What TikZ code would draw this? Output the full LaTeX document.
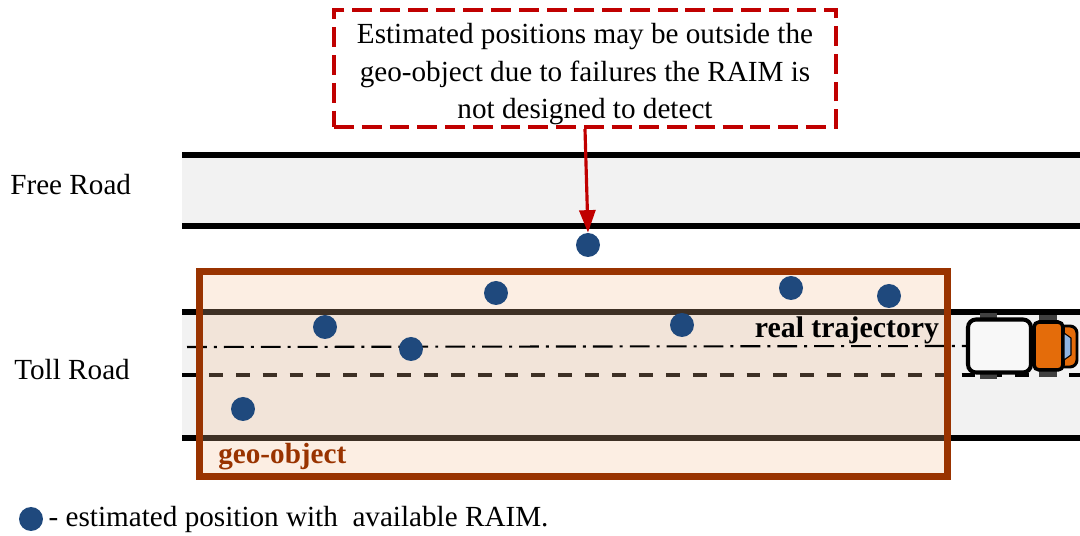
\documentclass[tikz,border=0pt]{standalone}
\usepackage{fontspec}
\setmainfont{Liberation Serif}
\usetikzlibrary{arrows.meta, positioning}

\definecolor{raimblue}{RGB}{31,73,125}
\definecolor{notered}{RGB}{192,0,0}
\definecolor{georim}{RGB}{153,51,0}
\definecolor{geotint}{RGB}{243,189,146}
\definecolor{roadgray}{RGB}{242,242,242}
\definecolor{caborange}{RGB}{228,108,10}
\definecolor{glassblue}{RGB}{142,180,227}
\definecolor{wheelgray}{RGB}{64,64,64}

\begin{document}
\begin{tikzpicture}[
    x=0.02cm, y=-0.02cm,
    font=\fontsize{16.6}{21.5}\selectfont,
    >=Latex,
    estpos/.style={
        circle,
        fill=raimblue,
        minimum size=0.48cm,
        inner sep=0pt
    },
    callout/.style={
        draw=notered,
        dash pattern=on 11.3pt off 4.5pt,
        line width=2.3pt,
        minimum width=10.04cm,
        minimum height=2.34cm,
        align=center,
        text height=2.02cm,
        text depth=0pt,
        inner sep=0pt
    },
    roadedge/.style={line width=3.3pt},
    lane/.style={line width=2.3pt, dash pattern=on 7.9pt off 7.4pt},
    trajectory/.style={line width=1.2pt, dash pattern=on 11.3pt off 4pt on 1.7pt off 4pt},
    lbl/.style={anchor=west, inner sep=0pt},
    geo/.style={
        fill=geotint,
        fill opacity=0.26,
        minimum width=14.94cm,
        minimum height=4.08cm,
        inner sep=0pt
    },
    trailer/.style={
        draw,
        line width=2.3pt,
        fill=roadgray!50!white,
        rounded corners=0.16cm,
        minimum width=1.26cm,
        minimum height=1.06cm
    },
    cabin/.style={
        draw,
        line width=2pt,
        fill=caborange,
        rounded corners=0.1cm,
        minimum width=0.58cm,
        minimum height=0.96cm
    }
]
\useasboundingbox (0,0) rectangle (1080,536);

% Free road
\fill[roadgray] (182,155) rectangle (1080,226);
\draw[roadedge] (182,155) -- (1080,155);
\draw[roadedge] (182,226) -- (1080,226);
\node[lbl] (freelbl) at (10,185) {Free Road};

% Toll road
\fill[roadgray] (182,312) rectangle (1080,438);
\draw[roadedge] (182,312) -- (1080,312);
\draw[roadedge] (182,438) -- (1080,438);
\draw[lane] (182,375) -- (1080,375);
\node[lbl] (tolllbl) at (14,370) {Toll Road};

% Geo-object area (tint only, rim drawn later)
\node[geo] (geo) at (573.5,374) {};

% Truck
\fill[wheelgray] (980,313) rectangle (997,379);
\fill[wheelgray] (1039,315) rectangle (1057,377);
\node[trailer] (trailer) at (999.5,346) {};
\draw[line width=1.7pt, fill=caborange, rounded corners=0.14cm]
    (1050,326) rectangle (1077,367);
\node[cabin] (cab) at (1048.5,346) {};
\draw[line width=0.6pt, fill=glassblue]
    (1064,333) -- (1071,338) -- (1071,355) -- (1064,360) -- cycle;

% Real trajectory
\coordinate (trajstart) at (187,347);
\draw[trajectory] (trajstart) -- (trailer.west);
\node[font=\fontsize{17}{20}\selectfont\bfseries] (trajlbl) at (847,330) {real trajectory};

% Geo-object rim
\draw[georim, line width=4pt] (geo.north west) rectangle (geo.south east);
\node[lbl, georim, font=\fontsize{16.6}{20}\selectfont\bfseries] (geolbl) at (218,457) {geo-object};

% Estimated positions
\node[estpos] (p1) at (588,245) {};
\node[estpos] (p2) at (325,327) {};
\node[estpos] (p3) at (411,349) {};
\node[estpos] (p4) at (496,293) {};
\node[estpos] (p5) at (682,325) {};
\node[estpos] (p6) at (791,288) {};
\node[estpos] (p7) at (889,296) {};
\node[estpos] (p8) at (243,409) {};

% Callout
\node[callout] (note) at (585,68.5)
{Estimated positions may be outside the\\
geo-object due to failures the RAIM is\\
not designed to detect};
\draw[notered, line width=1.8pt, -{Triangle[length=0.45cm, width=0.32cm]}]
    (note.south) -- (p1.north);

% Legend
\node[estpos] (key) at (31,519) {};
\node[lbl, right=0.1cm of key] (keylbl) {- estimated position with\ \ available RAIM.};

\end{tikzpicture}
\end{document}
